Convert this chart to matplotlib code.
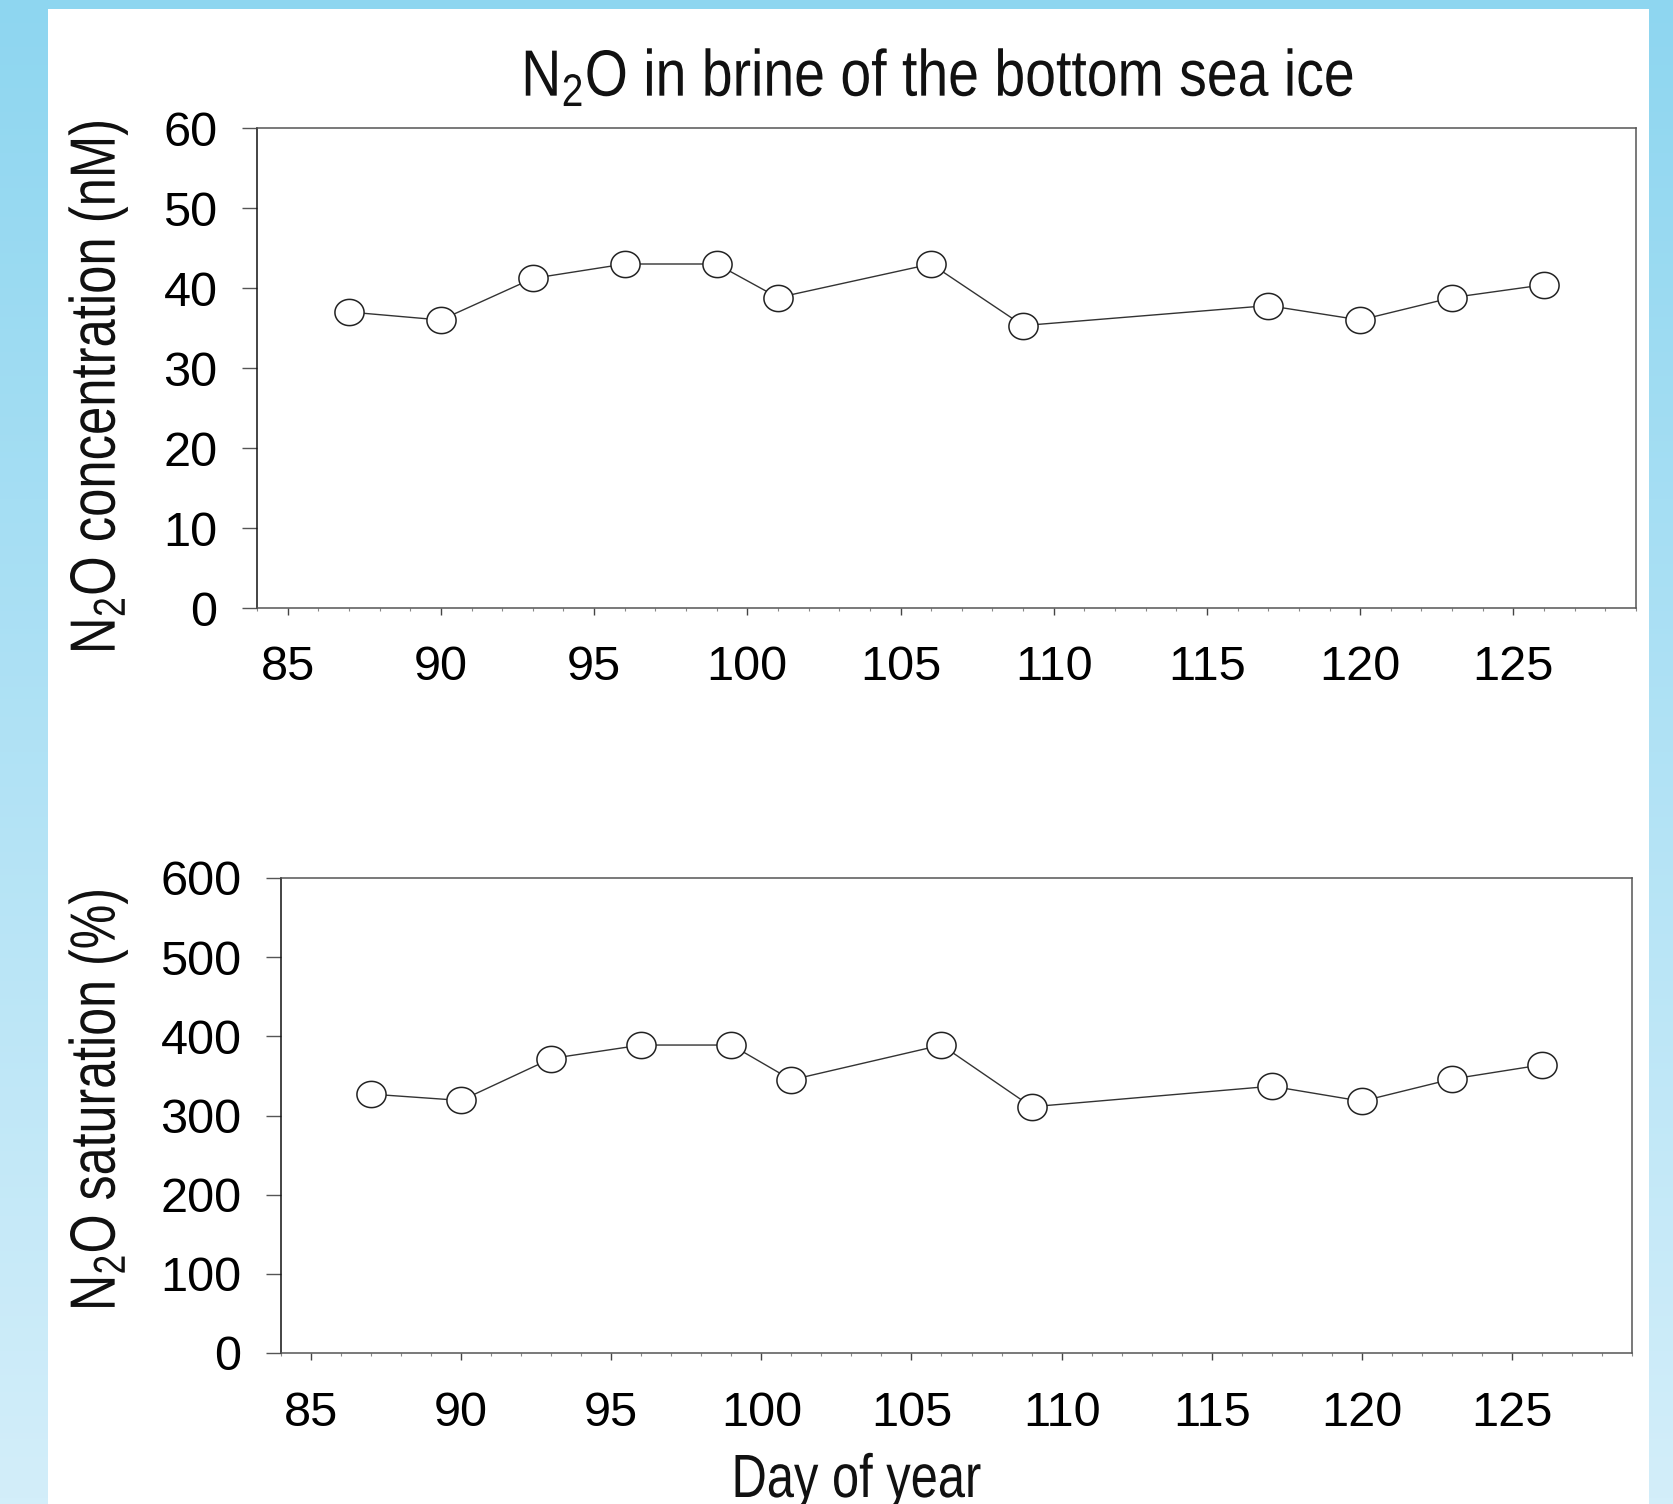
import matplotlib
matplotlib.use("Agg")
import matplotlib.pyplot as plt
import matplotlib.ticker as mtick
from matplotlib.path import Path
from matplotlib.patches import Rectangle, PathPatch
from matplotlib.textpath import TextPath
from matplotlib.font_manager import FontProperties
from matplotlib.transforms import Affine2D
import matplotlib.colors as mcolors
import numpy as np

plt.rcParams['font.family'] = ['Liberation Sans', 'DejaVu Sans']
plt.rcParams['mathtext.fontset'] = 'custom'
plt.rcParams['mathtext.rm'] = 'Liberation Sans'
plt.rcParams['mathtext.it'] = 'Liberation Sans'

days = [87, 90, 93, 96, 99, 101, 106, 109, 117, 120, 123, 126]
n2o_conc = [37.0, 36.0, 41.2, 43.0, 43.0, 38.8, 43.0, 35.3, 37.8, 36.0, 38.8, 40.4]
n2o_sat = [327, 319, 372, 389, 389, 345, 389, 311, 337, 318, 346, 364]

W, H = 1673, 1504
fp = FontProperties(family='Liberation Sans')

# slightly wide ellipse marker
t = np.linspace(0, 2 * np.pi, 60)
ellipse = Path(np.column_stack([np.cos(t), 0.9 * np.sin(t)]), closed=True)

fig = plt.figure(figsize=(W / 100, H / 100), dpi=100)

# background gradient + white panel
bg = fig.add_axes([0, 0, 1, 1], zorder=-10)
cmap = mcolors.LinearSegmentedColormap.from_list('bg', ['#8ed6f0', '#d3eefa'])
bg.imshow(np.linspace(0, 1, 256).reshape(-1, 1), aspect='auto', cmap=cmap,
          extent=[0, 1, 0, 1], origin='upper')
bg.add_patch(Rectangle((48 / W, 0), (1649 - 48) / W, 1 - 9 / H,
                       facecolor='white', edgecolor='none'))
bg.set_xlim(0, 1)
bg.set_ylim(0, 1)
bg.axis('off')


def narrow_text(s, x, y, cap, sx, rotate=False):
    # condensed text: glyph outlines squeezed along the reading direction
    # x, y in pixels from top-left; baseline at y (or at x when rotated)
    cap_h = TextPath((0, 0), 'N', size=100, prop=fp).get_extents().height / 100
    tp = TextPath((0, 0), s, size=cap / cap_h, prop=fp)
    ext = tp.get_extents()
    tr = Affine2D().translate(-(ext.x0 + ext.x1) / 2, 0).scale(sx, 1)
    if rotate:
        tr = tr.rotate_deg(90)
    tr = tr.translate(x, H - y)
    fig.add_artist(PathPatch(tp, transform=tr, facecolor='#111111', edgecolor='none', lw=0))


def style(ax, vals, ymax, ystep):
    ax.plot(days, vals, color='#333333', lw=1.0, marker=ellipse, ms=21,
            mfc='white', mec='#222222', mew=1.1, zorder=3)
    ax.set_xlim(84, 129)
    ax.set_ylim(0, ymax)
    ax.xaxis.set_major_locator(mtick.MultipleLocator(5))
    ax.xaxis.set_minor_locator(mtick.MultipleLocator(1))
    ax.yaxis.set_major_locator(mtick.MultipleLocator(ystep))
    ax.tick_params(axis='x', which='major', direction='out', length=5, width=1,
                   color='#444444', labelsize=35, pad=22)
    ax.tick_params(axis='x', which='minor', direction='out', length=2, width=0.8,
                   color='#888888')
    ax.tick_params(axis='y', which='major', direction='out', length=10.5, width=1,
                   color='#555555', labelsize=35, pad=18)
    ax.spines['left'].set_color('#111111')
    for s in ['top', 'right', 'bottom']:
        ax.spines[s].set_color('#555555')
    for s in ax.spines.values():
        s.set_linewidth(1.1)


ax1 = fig.add_axes([257 / W, 1 - 608 / H, (1636 - 257) / W, 480 / H])
style(ax1, n2o_conc, 60, 10)

ax2 = fig.add_axes([281 / W, 1 - 1353 / H, (1632 - 281) / W, 475 / H])
style(ax2, n2o_sat, 600, 100)

narrow_text(r'N$_\mathregular{2}$O in brine of the bottom sea ice', 939, 96, 45, 0.847)
narrow_text(r'N$_\mathregular{2}$O concentration (nM)', 115, 386, 44, 0.794, rotate=True)
narrow_text(r'N$_\mathregular{2}$O saturation (%)', 115, 1099, 44, 0.785, rotate=True)
narrow_text('Day of year', 858, 1497, 42, 0.80)

fig.savefig('out.png', dpi=100)
